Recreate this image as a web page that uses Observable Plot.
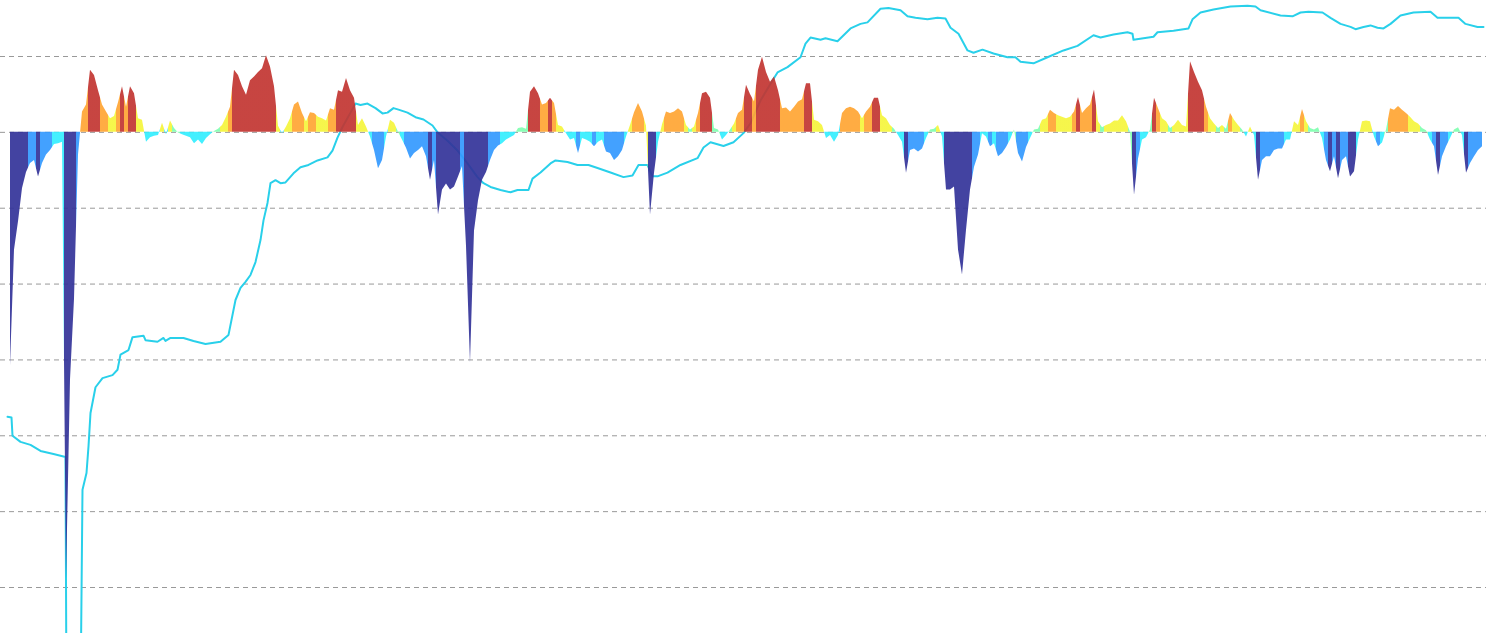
<!DOCTYPE html>
<html>
<head>
<meta charset="utf-8">
<script src="https://cdn.jsdelivr.net/npm/d3@7"></script>
<script src="https://cdn.jsdelivr.net/npm/@observablehq/plot@0.6"></script>
<style>
html, body { margin: 0; padding: 0; background: #fff; overflow: hidden; }
</style>
</head>
<body>
<div id="chart"></div>
<script>
// sampling interval (days) of the oscillator series
const STEP = 4;

// oscillator values, one every STEP days starting at day 0
const areaValues = [
  -3.08, -1.55, -1.18, -0.74, -0.53, -0.41, -0.37, -0.59, -0.41, -0.30,
  -0.24, -0.16, -0.15, -0.13, -5.89, -3.26, -2.2, -0.3, 0.27, 0.36,
  0.82, 0.75, 0.55, 0.36, 0.27, 0.18, 0.21, 0.39, 0.6, 0.33,
  0.6, 0.51, 0.18, 0.16, -0.13, -0.07, -0.05, -0.04, 0.12, -0.03,
  0.15, 0.05, -0.01, -0.03, -0.05, -0.07, -0.15, -0.10, -0.16, -0.08,
  -0.03, 0.01, 0.04, 0.09, 0.2, 0.33, 0.82, 0.75, 0.6, 0.49,
  0.68, 0.73, 0.79, 0.84, 1.01, 0.86, 0.6, 0.08, -0.02, 0.07,
  0.18, 0.36, 0.4, 0.25, 0.14, 0.26, 0.25, 0.2, 0.18, 0.15,
  0.31, 0.29, 0.55, 0.53, 0.71, 0.55, 0.45, 0.09, 0.18, 0.07,
  -0.06, -0.24, -0.48, -0.37, -0.06, 0.16, 0.12, 0.0, -0.1, -0.21,
  -0.35, -0.28, -0.24, -0.19, -0.32, -0.63, -0.37, -1.09, -0.76, -0.68,
  -0.76, -0.72, -0.59, -0.45, -1.5, -3.04, -1.3, -0.9, -0.63, -0.53,
  -0.37, -0.24, -0.18, -0.15, -0.1, -0.07, -0.04, 0.05, 0.06, 0.04,
  0.53, 0.6, 0.51, 0.36, 0.38, 0.45, 0.38, 0.09, 0.07, -0.02,
  -0.1, -0.08, -0.28, -0.08, -0.1, -0.13, -0.19, -0.13, -0.1, -0.26,
  -0.28, -0.37, -0.32, -0.24, -0.06, 0.09, 0.26, 0.38, 0.27, 0.08,
  -1.09, -0.54, -0.13, 0.1, 0.27, 0.25, 0.27, 0.31, 0.27, 0.09,
  0.03, 0.07, 0.25, 0.51, 0.53, 0.45, 0.05, 0.03, -0.1, -0.04,
  0.03, 0.11, 0.25, 0.29, 0.62, 0.5, 0.4, 0.82, 0.99, 0.79,
  0.66, 0.73, 0.55, 0.31, 0.32, 0.27, 0.33, 0.4, 0.43, 0.64,
  0.64, 0.16, 0.14, 0.09, -0.08, -0.04, -0.13, -0.04, 0.25, 0.31,
  0.33, 0.31, 0.27, 0.18, 0.27, 0.33, 0.45, 0.45, 0.22, 0.18,
  0.09, 0.04, -0.04, -0.13, -0.54, -0.24, -0.22, -0.26, -0.22, -0.08,
  0.03, 0.04, 0.09, -0.06, -0.76, -0.76, -0.72, -1.55, -1.88, -1.29,
  -0.76, -0.46, -0.3, -0.02, -0.06, -0.19, -0.15, -0.32, -0.28, -0.2,
  -0.1, 0.03, -0.28, -0.39, -0.2, -0.08, 0.03, 0.04, 0.16, 0.18,
  0.29, 0.25, 0.22, 0.2, 0.18, 0.2, 0.27, 0.46, 0.25, 0.31,
  0.36, 0.56, 0.14, 0.06, 0.09, 0.11, 0.15, 0.15, 0.22, 0.14,
  0.0, -0.83, -0.35, -0.1, -0.07, 0.03, 0.45, 0.31, 0.18, 0.14,
  0.05, 0.09, 0.16, 0.09, 0.07, 0.93, 0.79, 0.66, 0.55, 0.33,
  0.18, 0.11, 0.05, 0.09, 0.04, 0.25, 0.16, 0.09, 0.03, -0.06,
  0.07, -0.04, -0.63, -0.37, -0.32, -0.32, -0.24, -0.22, -0.22, -0.1,
  -0.1, 0.14, 0.09, 0.3, 0.14, 0.05, 0.03, 0.06, -0.08, -0.37,
  -0.52, -0.32, -0.61, -0.37, -0.32, -0.59, -0.52, -0.1, 0.14, 0.15,
  0.14, -0.06, -0.19, -0.14, 0.03, 0.31, 0.29, 0.34, 0.29, 0.25,
  0.2, 0.14, 0.11, 0.05, 0.02, -0.1, -0.19, -0.57, -0.32, -0.19,
  -0.08, 0.03, 0.06, -0.04, -0.54, -0.41, -0.32, -0.24, -0.19
];

// secondary (price-like) line: day and value
const lineDays = [
  -3, 1, 2, 10, 20, 30, 43, 55, 56, 70,
  72, 76, 78, 80, 85, 92, 102, 107, 110, 118,
  122, 133, 135, 147, 153, 155, 160, 173, 183, 195,
  210, 218, 225, 230, 235, 240, 245, 250, 253, 257,
  260, 265, 270, 275, 283, 290, 298, 307, 317, 322,
  327, 332, 340, 345, 350, 357, 365, 372, 377, 383,
  388, 397, 405, 413, 422, 427, 437, 447, 457, 467,
  473, 480, 490, 500, 507, 518, 522, 530, 540, 545,
  557, 567, 578, 587, 600, 613, 622, 628, 637, 642,
  647, 657, 670, 687, 693, 700, 713, 723, 733, 740,
  750, 760, 767, 777, 790, 795, 800, 810, 815, 827,
  840, 850, 857, 870, 878, 890, 897, 905, 917, 927,
  935, 940, 948, 957, 963, 972, 983, 997, 1005, 1010,
  1023, 1037, 1053, 1067, 1083, 1090, 1103, 1117, 1122, 1123,
  1143, 1147, 1163, 1178, 1182, 1190, 1203, 1220, 1237, 1245,
  1250, 1270, 1282, 1290, 1298, 1312, 1320, 1330, 1340, 1345,
  1353, 1360, 1367, 1373, 1380, 1390, 1403, 1420, 1427, 1437,
  1448, 1455, 1467, 1473
];
const lineValues = [
  -3.75, -3.76, -4.0, -4.08, -4.12, -4.2, -4.24, -4.28, -7.5, -7.5,
  -4.71, -4.49, -4.14, -3.70, -3.36, -3.24, -3.2, -3.13, -2.93, -2.87,
  -2.70, -2.68, -2.74, -2.76, -2.71, -2.75, -2.71, -2.71, -2.75, -2.79,
  -2.76, -2.67, -2.21, -2.05, -1.97, -1.88, -1.71, -1.42, -1.16, -0.93,
  -0.67, -0.63, -0.67, -0.66, -0.54, -0.46, -0.43, -0.37, -0.33, -0.24,
  -0.07, 0.07, 0.26, 0.38, 0.36, 0.38, 0.32, 0.25, 0.26, 0.32,
  0.30, 0.26, 0.20, 0.17, 0.09, 0.0, -0.11, -0.24, -0.41, -0.59,
  -0.67, -0.72, -0.76, -0.79, -0.76, -0.76, -0.61, -0.53, -0.41, -0.37,
  -0.39, -0.43, -0.43, -0.47, -0.53, -0.59, -0.57, -0.43, -0.43, -0.58,
  -0.58, -0.53, -0.43, -0.34, -0.20, -0.13, -0.18, -0.13, -0.01, 0.12,
  0.42, 0.64, 0.79, 0.86, 0.99, 1.17, 1.25, 1.22, 1.24, 1.20,
  1.37, 1.43, 1.45, 1.63, 1.64, 1.61, 1.53, 1.51, 1.49, 1.51,
  1.50, 1.38, 1.30, 1.08, 1.05, 1.09, 1.04, 0.99, 0.99, 0.93,
  0.91, 0.99, 1.08, 1.14, 1.28, 1.25, 1.29, 1.32, 1.30, 1.22,
  1.26, 1.32, 1.34, 1.37, 1.49, 1.58, 1.62, 1.66, 1.67, 1.66,
  1.61, 1.54, 1.53, 1.58, 1.59, 1.58, 1.51, 1.43, 1.39, 1.36,
  1.39, 1.41, 1.38, 1.37, 1.43, 1.54, 1.58, 1.59, 1.51, 1.51,
  1.51, 1.43, 1.39, 1.39
];

// gridline values and colour bands
const gridValues = [-6, -5, -4, -3, -2, -1, 0, 1];
const bandBreaks = [-0.51, -0.17, -0.01, 0.07, 0.24, 0.44];
const bandColors = ["#333399", "#3399ff", "#33eeff", "#80ffb0", "#f5f53c", "#ffa533", "#c23531"];

const areaData = areaValues.map((v, i) => ({day: i * STEP, v}));
const lineData = lineDays.map((d, i) => ({day: d, v: lineValues[i]}));
const band = d3.scaleThreshold(bandBreaks, bandColors);

const W = 1490;
const chart = Plot.plot({
  width: W,
  height: 633,
  marginTop: 0,
  marginBottom: 0,
  marginLeft: 0,
  marginRight: 4,
  x: {domain: [0, 1472], range: [10, 1482], axis: null},
  y: {domain: [-6, 1], range: [587, 56], axis: null},
  marks: [
    Plot.ruleY(gridValues, {stroke: "#999", strokeDasharray: "5,4", strokeWidth: 1}),
    Plot.line(lineData, {x: "day", y: "v", stroke: "#29d0ea", strokeWidth: 2}),
    Plot.area(areaData, {x1: "day", y1: 0, y2: "v", fill: "url(#oscFill)", fillOpacity: 0.92})
  ]
});

// horizontal gradient: each sample's band colour, switching halfway between samples
const xs = chart.scale("x");
const defs = d3.create("svg:defs");
const grad = defs.append("linearGradient")
  .attr("id", "oscFill")
  .attr("gradientUnits", "userSpaceOnUse")
  .attr("x1", 0).attr("y1", 0).attr("x2", W).attr("y2", 0);
areaData.forEach((d, i) => {
  const a = xs.apply(d.day - STEP / 2) / W;
  const b = xs.apply(d.day + STEP / 2) / W;
  const c = band(d.v);
  grad.append("stop").attr("offset", Math.max(0, a)).attr("stop-color", c);
  grad.append("stop").attr("offset", Math.min(1, b)).attr("stop-color", c);
});
chart.insertBefore(defs.node(), chart.firstChild);
document.getElementById("chart").appendChild(chart);
</script>
</body>
</html>
